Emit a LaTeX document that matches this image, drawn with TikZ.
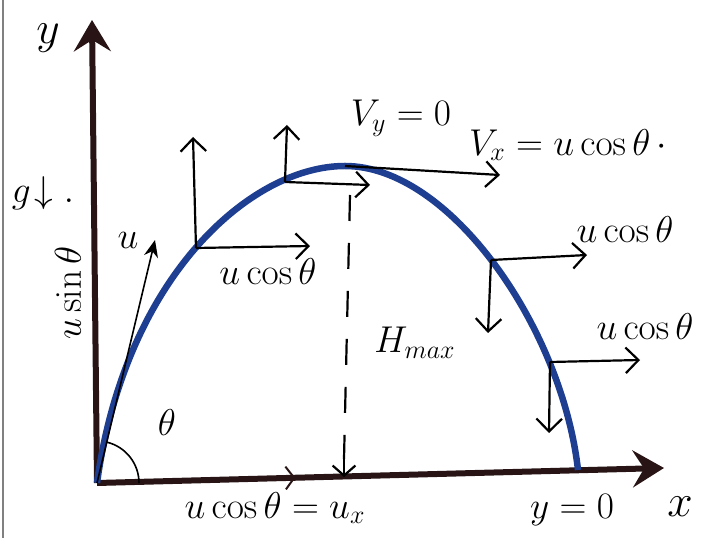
\documentclass[tikz,border=0pt]{standalone}
\usepackage{amsmath,amssymb}
\usepackage{tikz}
\usetikzlibrary{positioning,arrows.meta,calc,decorations.markings}
\definecolor{trajblue}{RGB}{30,62,145}
\definecolor{axisdark}{RGB}{40,20,20}
\tikzset{
  axisln/.style={-{Stealth[length=11mm,width=13mm,inset=4mm]},line width=6pt,axisdark},
  vec/.style={-{Straight Barb[length=4.5mm,width=9mm]},line width=2.2pt},
  traj/.style={line width=6.5pt,trajblue},
  hdash/.style={line width=2.2pt,dash pattern=on 26pt off 22pt},
  lbl/.style={font=\huge,scale=1.8,inner sep=0pt},
  biglbl/.style={font=\huge,scale=2.2,inner sep=0pt},
}

\begin{document}
\begin{tikzpicture}[x=1pt,y=1pt]
  \useasboundingbox (0,0) rectangle (718,538);
  \draw[gray,line width=2pt] (3,0)--(3,538);
  % points on the path
  \coordinate (O)  at (97,55);
  \coordinate (P1) at (196,290);
  \coordinate (P2) at (285,356);
  \coordinate (A)  at (345,372);
  \coordinate (P3) at (491,278);
  \coordinate (P4) at (550,176);
  \coordinate (R)  at (578,68);
  % axes
  \coordinate (Ytip) at (92,518);
  \coordinate (Xtip) at (664,70);
  \draw[axisln] (O)--(Ytip);
  \draw[axisln,postaction={decorate},decoration={markings,
      mark=at position 0.35 with {\arrow[line width=2pt]{Straight Barb[length=3mm,width=8mm]}}}]
    (O)--(Xtip);
  % trajectory
  \draw[traj] (O) .. controls (125,260) and (250,372) .. (A)
                  .. controls (450,372) and (562,210) .. (R);
  % launch velocity and angle
  \coordinate (Utip) at (155,298);
  \draw[line width=1.6pt,-{Stealth[length=6mm,width=5mm]}] (O)--(Utip);
  \draw[line width=1.6pt] ($(O)+(42,0)$) arc[start angle=0,end angle=76,radius=42];
  % components along the path
  \coordinate (P1u) at (193,401);
  \coordinate (P1r) at (310,292);
  \coordinate (P2u) at (287,413);
  \coordinate (P2r) at (370,353);
  \coordinate (Ar)  at (500,363);
  \coordinate (P3r) at (587,283);
  \coordinate (P3d) at (488,205);
  \coordinate (P4r) at (640,178);
  \coordinate (P4d) at (549,105);
  \draw[vec] (P1)--(P1u);
  \draw[vec] (P1)--(P1r);
  \draw[vec] (P2)--(P2u);
  \draw[vec] (P2)--(P2r);
  \draw[vec] (A)--(Ar);
  \draw[vec] (P3)--(P3r);
  \draw[vec] (P3)--(P3d);
  \draw[vec] (P4)--(P4r);
  \draw[vec] (P4)--(P4d);
  % maximum height
  \coordinate (Htop) at (350,343);
  \coordinate (Hbot) at (344,61);
  \draw[hdash] (Htop)--($(Hbot)+(0,18)$);
  \draw[line width=2.2pt,-{Straight Barb[length=3.5mm,width=8mm]}] ($(Hbot)+(0,22)$)--(Hbot);
  % labels
  \node[biglbl] (ylbl) at (48,500) {$y$};
  \node[biglbl] (xlbl) at (680,31) {$x$};
  \node[lbl] (glbl) at (43,345) {$g\!\downarrow.$};
  \node[lbl,rotate=90] (usin) at (68,245) {$u\sin\theta$};
  \node[lbl] (ulbl) at (128,298) {$u$};
  \node[lbl] (thlbl) at (167,115) {$\theta$};
  \node[lbl] (c1) at (268,266) {$u\cos\theta$};
  \node[lbl] (vy) at (401,420) {$V_y=0$};
  \node[lbl] (vx) at (568,393) {$V_x=u\cos\theta\,\cdot$};
  \node[lbl] (hmax) at (415,195) {$H_{max}$};
  \node[lbl] (c3) at (625,308) {$u\cos\theta$};
  \node[lbl] (c4) at (645,211) {$u\cos\theta$};
  \node[lbl] (y0) at (572,28) {$y=0$};
  \node[lbl] (ux) at (275,30) {$u\cos\theta=u_x$};
\end{tikzpicture}
\end{document}
